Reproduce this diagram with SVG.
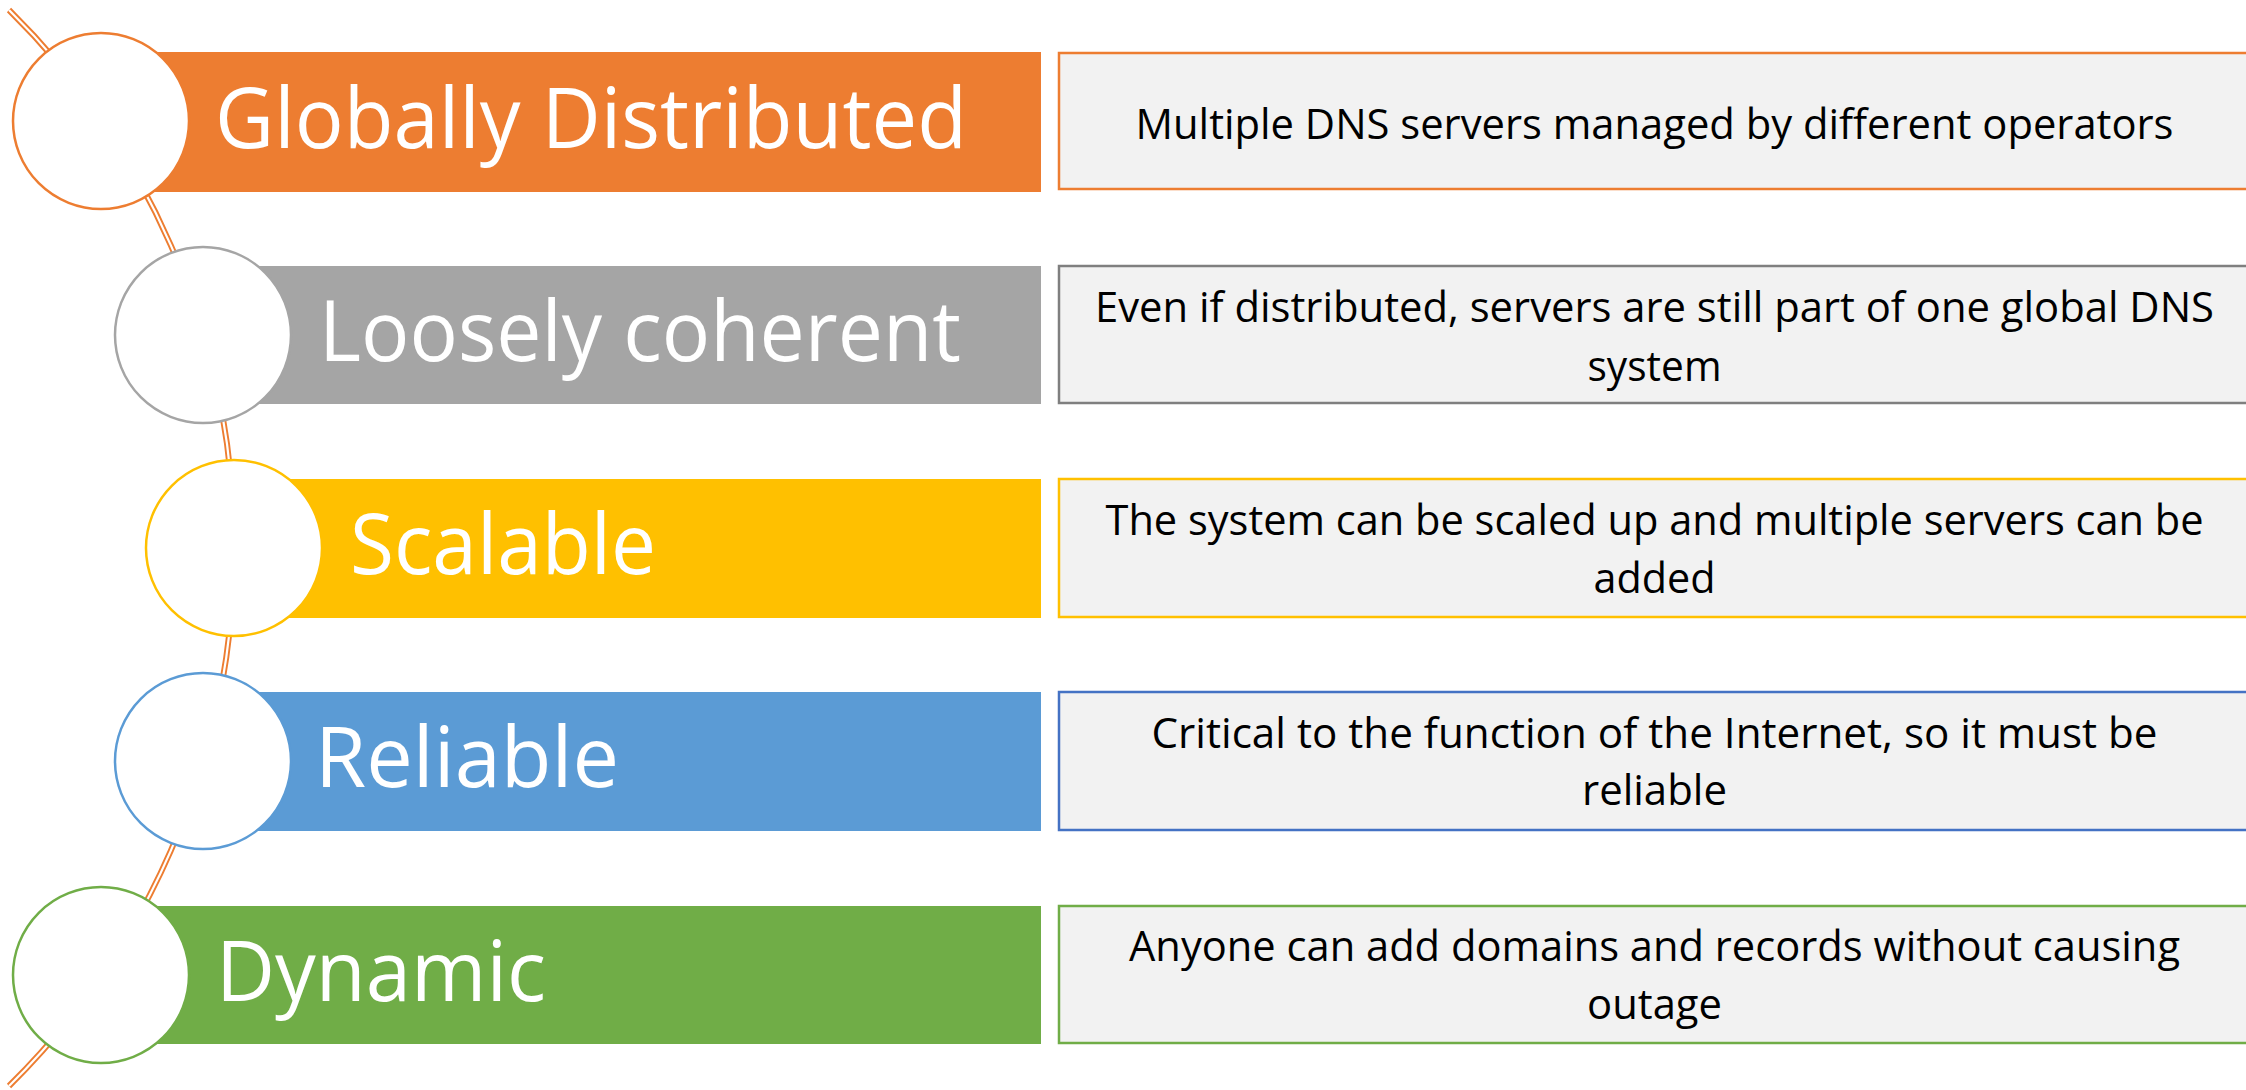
<svg xmlns="http://www.w3.org/2000/svg" width="2246" height="1090" viewBox="0 0 2246 1090">
<style>
.lbl{font-family:"Open Sans","Noto Sans",sans-serif;font-size:85px;fill:#FFFFFF;}
.desc{font-family:"Open Sans","Noto Sans",sans-serif;font-size:42px;fill:#000000;text-anchor:middle;}
.circ{fill:#FFFFFF;stroke-width:2.5;}
.box{fill:#F2F2F2;stroke-width:2.5;}
</style>
<rect width="2246" height="1090" fill="#FFFFFF"/>
<g id="connectors">
<path d="M 9 10 A 755.5 755.5 0 0 1 9 1086" fill="none" stroke="#ED7D31" stroke-width="6"/>
<path d="M 9 10 A 755.5 755.5 0 0 1 9 1086" fill="none" stroke="#FFFFFF" stroke-width="2.2"/>
</g>
<g id="node1">
<rect x="101" y="52" width="940" height="140" fill="#ED7D31"/>
<circle class="circ" cx="101" cy="121" r="88" stroke="#ED7D31"/>
<text class="lbl" x="215" y="148" textLength="752" lengthAdjust="spacingAndGlyphs">Globally Distributed</text>
<rect class="box" x="1059" y="53" width="1200" height="136" stroke="#ED7D31"/>
<text class="desc" x="1654.5" y="139" textLength="1038" lengthAdjust="spacingAndGlyphs">Multiple DNS servers managed by different operators</text>
</g>
<g id="node2">
<rect x="203" y="266" width="838" height="138" fill="#A5A5A5"/>
<circle class="circ" cx="203" cy="335" r="88" stroke="#A5A5A5"/>
<text class="lbl" x="319" y="361" textLength="642" lengthAdjust="spacingAndGlyphs">Loosely coherent</text>
<rect class="box" x="1059" y="266" width="1200" height="137" stroke="#7F7F7F"/>
<text class="desc" x="1654.5" y="322" textLength="1119" lengthAdjust="spacingAndGlyphs">Even if distributed, servers are still part of one global DNS</text>
<text class="desc" x="1654.5" y="381" textLength="134" lengthAdjust="spacingAndGlyphs">system</text>
</g>
<g id="node3">
<rect x="234" y="479" width="807" height="139" fill="#FFC000"/>
<circle class="circ" cx="234" cy="548" r="88" stroke="#FFC000"/>
<text class="lbl" x="350" y="574" textLength="306" lengthAdjust="spacingAndGlyphs">Scalable</text>
<rect class="box" x="1059" y="479" width="1200" height="138" stroke="#FFC000"/>
<text class="desc" x="1654.5" y="535" textLength="1098" lengthAdjust="spacingAndGlyphs">The system can be scaled up and multiple servers can be</text>
<text class="desc" x="1654.5" y="593" textLength="122" lengthAdjust="spacingAndGlyphs">added</text>
</g>
<g id="node4">
<rect x="203" y="692" width="838" height="139" fill="#5B9BD5"/>
<circle class="circ" cx="203" cy="761" r="88" stroke="#5B9BD5"/>
<text class="lbl" x="315" y="787" textLength="304" lengthAdjust="spacingAndGlyphs">Reliable</text>
<rect class="box" x="1059" y="692" width="1200" height="138" stroke="#4472C4"/>
<text class="desc" x="1654.5" y="748" textLength="1006" lengthAdjust="spacingAndGlyphs">Critical to the function of the Internet, so it must be</text>
<text class="desc" x="1654.5" y="805" textLength="145" lengthAdjust="spacingAndGlyphs">reliable</text>
</g>
<g id="node5">
<rect x="101" y="906" width="940" height="138" fill="#70AD47"/>
<circle class="circ" cx="101" cy="975" r="88" stroke="#70AD47"/>
<text class="lbl" x="216" y="1001" textLength="330" lengthAdjust="spacingAndGlyphs">Dynamic</text>
<rect class="box" x="1059" y="906" width="1200" height="137" stroke="#70AD47"/>
<text class="desc" x="1654.5" y="961" textLength="1051" lengthAdjust="spacingAndGlyphs">Anyone can add domains and records without causing</text>
<text class="desc" x="1654.5" y="1019" textLength="135" lengthAdjust="spacingAndGlyphs">outage</text>
</g>
</svg>
